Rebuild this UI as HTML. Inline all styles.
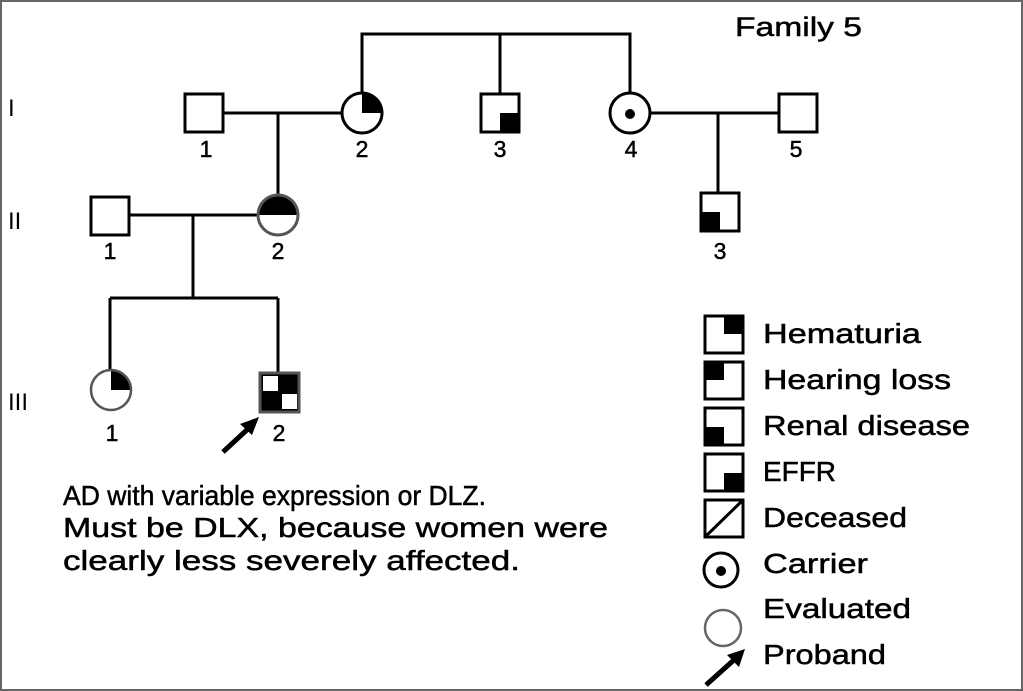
<!DOCTYPE html>
<html><head><meta charset="utf-8"><style>
html,body{margin:0;padding:0;background:#fff}
svg{display:block}
text{font-family:"Liberation Sans",sans-serif;fill:#000}
.t{stroke:#000;stroke-width:0.5}
</style></head><body>
<svg width="1023" height="691" viewBox="0 0 1023 691" xmlns="http://www.w3.org/2000/svg">
<rect x="1" y="1" width="1021" height="689" fill="#fff" stroke="#666" stroke-width="2"/>
<text class="t" x="735" y="36" font-size="27" textLength="127" lengthAdjust="spacingAndGlyphs">Family 5</text>
<g stroke="#000" stroke-width="3" fill="none">
<polyline points="362,93 362,34 630,34 630,93"/>
<line x1="500" y1="34" x2="500" y2="93"/>
<line x1="223" y1="113" x2="342" y2="113"/>
<line x1="278" y1="113" x2="278" y2="195"/>
<line x1="650" y1="113" x2="778" y2="113"/>
<line x1="718" y1="113" x2="718" y2="192"/>
<line x1="129" y1="215" x2="258" y2="215"/>
<line x1="193" y1="215" x2="193" y2="298"/>
<line x1="110" y1="298" x2="278" y2="298"/>
<line x1="110" y1="298" x2="110" y2="370"/>
<line x1="278" y1="298" x2="278" y2="372"/>
</g>
<rect x="185" y="94" width="38" height="38" fill="#fff" stroke="#000" stroke-width="3"/>
<path d="M362,113 L362,93 A20,20 0 0 1 382,113 Z" fill="#000"/>
<circle cx="362" cy="113" r="20" fill="none" stroke="#000" stroke-width="3"/>
<rect x="481" y="94" width="38" height="38" fill="#fff" stroke="#000" stroke-width="3"/>
<rect x="500" y="113" width="19" height="19" fill="#000"/>
<circle cx="630" cy="113" r="20" fill="#fff" stroke="#000" stroke-width="3"/>
<circle cx="630" cy="114" r="5" fill="#000"/>
<rect x="779" y="94" width="38" height="38" fill="#fff" stroke="#000" stroke-width="3"/>
<g font-size="23" text-anchor="middle" class="t">
<text x="206" y="157">1</text><text x="362" y="157">2</text><text x="500" y="157">3</text><text x="631" y="157">4</text><text x="796" y="157">5</text>
<text x="110" y="259">1</text><text x="278" y="259">2</text><text x="720" y="259">3</text>
<text x="112" y="441">1</text><text x="279" y="441">2</text>
</g>
<rect x="91" y="197" width="38" height="38" fill="#fff" stroke="#000" stroke-width="3"/>
<path d="M258,215 A20,20 0 0 1 298,215 Z" fill="#000"/>
<circle cx="278" cy="215" r="20" fill="none" stroke="#555" stroke-width="3"/>
<rect x="701" y="193" width="38" height="38" fill="#fff" stroke="#000" stroke-width="3"/>
<rect x="701" y="212" width="19" height="19" fill="#000"/>
<path d="M111,390 L111,370 A20,20 0 0 1 131,390 Z" fill="#000"/>
<circle cx="111" cy="390" r="20" fill="none" stroke="#555" stroke-width="2.5"/>
<rect x="260" y="373" width="39" height="39" fill="#000" stroke="#555" stroke-width="3"/>
<rect x="263" y="376" width="15" height="15" fill="#fff"/>
<rect x="282" y="394" width="15" height="15" fill="#fff"/>
<line x1="223" y1="452" x2="250" y2="427" stroke="#000" stroke-width="5"/>
<polygon points="259,417 240,424 252,435" fill="#000"/>
<g font-size="24"><text x="8" y="116">I</text><text x="8" y="229">II</text><text x="8" y="410">III</text></g>
<g font-size="28" class="t">
<text x="63" y="505" textLength="423" lengthAdjust="spacingAndGlyphs">AD with variable expression or DLZ.</text>
<text x="63" y="537" textLength="545" lengthAdjust="spacingAndGlyphs">Must be DLX, because women were</text>
<text x="63" y="570" textLength="457" lengthAdjust="spacingAndGlyphs">clearly less severely affected.</text>
</g>
<g stroke="#000" stroke-width="3" fill="#fff">
<rect x="705" y="316" width="38" height="37"/>
<rect x="705" y="362" width="38" height="37"/>
<rect x="705" y="408" width="38" height="37"/>
<rect x="705" y="454" width="38" height="37"/>
<rect x="705" y="500" width="38" height="37"/>
</g>
<rect x="724" y="316" width="19" height="18" fill="#000"/>
<rect x="705" y="362" width="19" height="18" fill="#000"/>
<rect x="705" y="427" width="19" height="18" fill="#000"/>
<rect x="724" y="473" width="19" height="18" fill="#000"/>
<line x1="705" y1="537" x2="743" y2="500" stroke="#000" stroke-width="3"/>
<circle cx="721" cy="570" r="17" fill="#fff" stroke="#000" stroke-width="3"/>
<circle cx="721" cy="571" r="5" fill="#000"/>
<circle cx="723" cy="628" r="18" fill="#fff" stroke="#666" stroke-width="2.5"/>
<line x1="706" y1="685" x2="735" y2="659" stroke="#000" stroke-width="5"/>
<polygon points="745,649 727,655 739,667" fill="#000"/>
<g font-size="28" class="t" lengthAdjust="spacingAndGlyphs">
<text x="763" y="343" textLength="158" lengthAdjust="spacingAndGlyphs">Hematuria</text>
<text x="763" y="389" textLength="188" lengthAdjust="spacingAndGlyphs">Hearing loss</text>
<text x="763" y="435" textLength="207" lengthAdjust="spacingAndGlyphs">Renal disease</text>
<text x="763" y="481" textLength="73" lengthAdjust="spacingAndGlyphs">EFFR</text>
<text x="763" y="527" textLength="144" lengthAdjust="spacingAndGlyphs">Deceased</text>
<text x="763" y="573" textLength="105" lengthAdjust="spacingAndGlyphs">Carrier</text>
<text x="763" y="618" textLength="148" lengthAdjust="spacingAndGlyphs">Evaluated</text>
<text x="763" y="664" textLength="123" lengthAdjust="spacingAndGlyphs">Proband</text>
</g>
</svg>
</body></html>
